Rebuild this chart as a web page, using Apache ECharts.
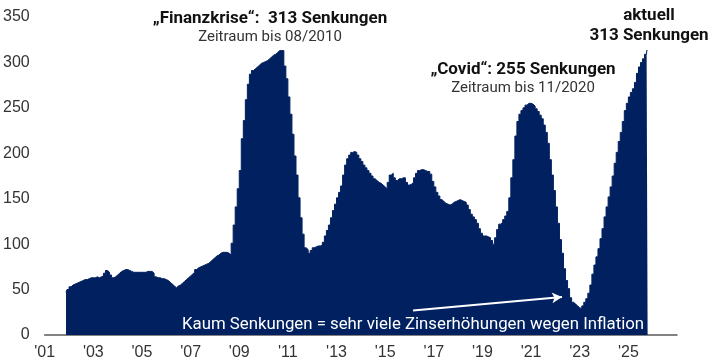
<!DOCTYPE html>
<html><head><meta charset="utf-8">
<script src="https://cdn.jsdelivr.net/npm/echarts@6/dist/echarts.min.js"></script>
<style>html,body{margin:0;padding:0;background:#fff}#c{width:720px;height:364px}</style>
</head><body><div id="c"></div>
<script>
// Monthly series, first value = Nov 2001
const startYear = 2001;
const startMonth = 11;
const values = [
  47, 50,
  53, 55, 56, 57, 58, 59, 60, 61, 61, 62, 63, 63,
  63, 64, 63, 64, 65, 68, 71, 69, 66, 63, 64, 66,
  68, 70, 71, 72, 72, 71, 70, 69, 69, 69, 69, 69,
  69, 69, 70, 70, 70, 68, 64, 63, 63, 62, 62, 61,
  60, 58, 56, 54, 52, 54, 55, 57, 59, 61, 63, 65,
  67, 69, 72, 74, 75, 76, 77, 78, 79, 81, 83, 85,
  87, 88, 90, 91, 91, 91, 90, 88, 101, 121, 141, 161,
  181, 216, 236, 259, 276, 287, 291, 293, 295, 297, 299, 300,
  301, 302, 304, 306, 308, 309, 311, 313, 313, 313, 296, 282,
  262, 243, 221, 197, 176, 151, 129, 111, 96, 94, 90, 93,
  96, 97, 98, 98, 99, 102, 109, 115, 121, 129, 137, 144,
  151, 157, 164, 176, 187, 194, 198, 201, 202, 201, 198, 194,
  191, 187, 184, 181, 178, 175, 172, 170, 168, 167, 165, 163,
  161, 168, 176, 178, 173, 170, 172, 172, 173, 173, 168, 165,
  166, 168, 173, 178, 181, 182, 182, 181, 180, 180, 177, 169,
  163, 157, 153, 149, 147, 145, 144, 143, 144, 146, 147, 148,
  149, 148, 147, 146, 143, 138, 133, 130, 127, 123, 117, 112,
  109, 109, 108, 107, 104, 100, 107, 116, 122, 124, 127, 131,
  136, 151, 173, 193, 219, 235, 243, 247, 250, 253, 255, 255,
  254, 252, 249, 246, 242, 238, 231, 223, 211, 193, 176, 159,
  141, 123, 105, 90, 73, 60, 51, 41, 36, 34, 32, 30,
  29, 32, 36, 40, 46, 55, 67, 77, 86, 95, 106, 117,
  130, 141, 152, 163, 175, 189, 201, 213, 223, 235, 247, 255,
  262, 267, 271, 278, 288, 295, 300, 304, 309, 313
];
const xMin = 2001, xMax = 2027, xStep = 2;
const yMin = 0, yMax = 350, yStep = 50;

const annotations = [
  { text: '„Finanzkrise“:  313 Senkungen', bold: true },
  { text: 'Zeitraum bis 08/2010', bold: false },
  { text: '„Covid“: 255 Senkungen', bold: true },
  { text: 'Zeitraum bis 11/2020', bold: false },
  { text: 'aktuell', bold: true },
  { text: '313 Senkungen', bold: true }
];
const noteText = 'Kaum Senkungen = sehr viele Zinserhöhungen wegen Inflation';

// build [x, y] pairs: x = mid-month decimal year
const seriesData = values.map((v, i) => {
  const m = startMonth - 1 + i;
  return [startYear + (m + 0.5) / 12, v];
});

const axisFont = "'Liberation Sans Narrow', 'Arial Narrow', sans-serif";
const textFont = "Roboto, 'Noto Sans', sans-serif";

const chart = echarts.init(document.getElementById('c'), null, { renderer: 'canvas' });
const pos = [
  [270, 19, 17], [270, 37, 15],
  [523, 70, 17], [523, 88, 15],
  [649, 16, 17], [649, 36, 17]
];
const graphics = annotations.map((a, i) => ({
  type: 'text', z: 100,
  x: pos[i][0], y: pos[i][1],
  style: {
    text: a.text,
    font: (a.bold ? 'bold ' : '') + pos[i][2] + 'px ' + textFont,
    fill: a.bold ? '#111' : '#333',
    textAlign: 'center', textVerticalAlign: 'middle'
  }
}));
graphics.push({
  type: 'text', z: 100, x: 182, y: 325,
  style: { text: noteText, font: '16.8px ' + textFont, fill: '#fff', textAlign: 'left', textVerticalAlign: 'middle' }
});

chart.setOption({
  animation: false,
  grid: { left: 43, right: 43, top: 17, bottom: 29 },
  xAxis: {
    type: 'value', min: xMin, max: xMax, interval: xStep,
    splitLine: { show: false },
    axisTick: { show: false },
    axisLine: { show: true, lineStyle: { color: '#595959', width: 1.5 } },
    axisLabel: {
      margin: 10, color: '#333', fontSize: 16, fontFamily: axisFont,
      showMaxLabel: false,
      formatter: v => "'" + String(v).slice(2)
    }
  },
  yAxis: {
    type: 'value', min: yMin, max: yMax, interval: yStep,
    splitLine: { show: false },
    axisTick: { show: false },
    axisLine: { show: false },
    axisLabel: { margin: 15, color: '#333', fontSize: 16, fontFamily: axisFont }
  },
  series: [{
    type: 'line',
    data: seriesData,
    step: 'middle',
    symbol: 'none',
    lineStyle: { color: '#002060', width: 1 },
    areaStyle: { color: '#002060', opacity: 1 },
    markLine: {
      silent: true,
      symbol: ['none', 'arrow'],
      symbolSize: [8, 10],
      label: { show: false },
      lineStyle: { color: '#fff', width: 2, type: 'solid' },
      data: [[{ x: 413, y: 310.5 }, { x: 562, y: 297 }]]
    }
  }],
  graphic: graphics
});
</script>
</body></html>
